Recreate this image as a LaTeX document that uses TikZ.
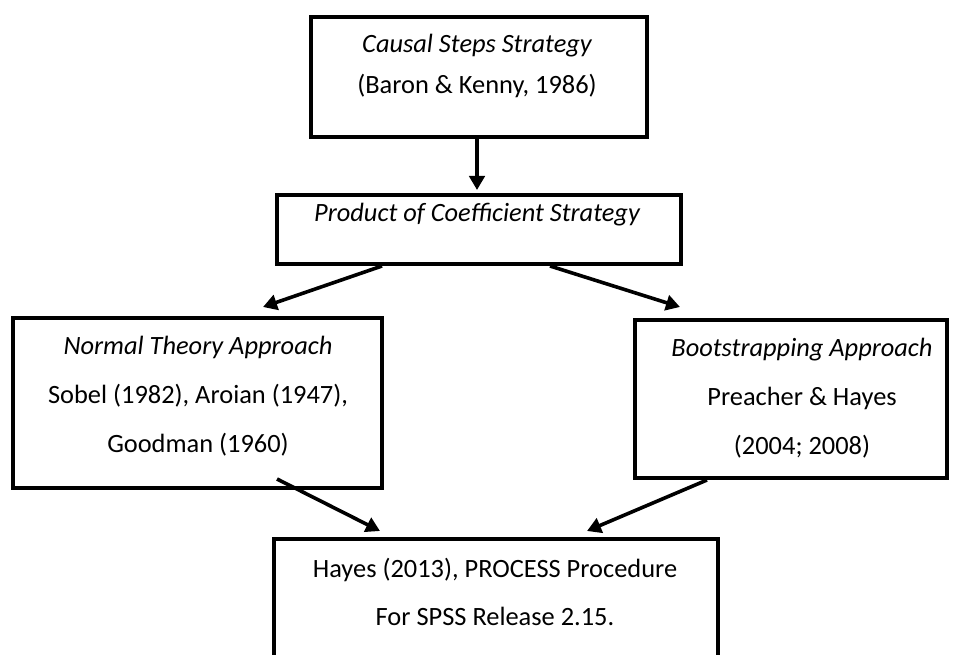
\documentclass[tikz,border=0pt]{standalone}
\usepackage{fontspec}
\setmainfont{Carlito}
\usetikzlibrary{arrows.meta,calc}
\begin{document}
\begin{tikzpicture}[x=0.75pt,y=-0.75pt,
  box/.style={draw=black,line width=3pt,rectangle,inner sep=0pt},
  txt/.style={anchor=base,inner sep=0pt,font=\fontsize{19.8}{24}\selectfont},
  conn/.style={line width=2.7pt,-{Triangle[length=10.5pt,width=11.5pt]}}]
\useasboundingbox (0,0) rectangle (960,655);
\fill[white] (0,0) rectangle (960,655);
% boxes
\node[box,minimum width=252pt,minimum height=90pt] (b1) at (479,77) {};
\node[box,minimum width=303pt,minimum height=51.75pt] (b2) at (479,229.5) {};
\node[box,minimum width=276.75pt,minimum height=127.5pt] (b3) at (197.5,403) {};
\node[box,minimum width=234pt,minimum height=118.5pt] (b4) at (791,399) {};
\node[box,minimum width=333pt,minimum height=98.25pt] (b5) at (496,604.5) {};
% texts
\node[txt] (t1a) at (477,53) {\itshape Causal Steps Strategy};
\node[txt] (t1b) at (477,94) {(Baron \& Kenny, 1986)};
\node[txt] (t2) at (477,222) {\itshape Product of Coefficient Strategy};
\node[txt] (t3a) at (198,355) {\itshape Normal Theory Approach};
\node[txt] (t3b) at (198,404) {Sobel (1982), Aroian (1947),};
\node[txt] (t3c) at (198,453) {Goodman (1960)};
\node[txt] (t4a) at (802,357) {\itshape Bootstrapping Approach};
\node[txt] (t4b) at (802,406) {Preacher \& Hayes};
\node[txt] (t4c) at (802,455) {(2004; 2008)};
\node[txt] (t5a) at (495,577) {Hayes (2013), PROCESS Procedure};
\node[txt] (t5b) at (495,625) {For SPSS Release 2.15.};
% connectors
\draw[conn] ($(b1.south)+(-2,0)$) -- ($(b2.north)+(-2,-3)$);
\draw[conn] ($(b2.south)+(-97,0)$) -- ($(b3.north)+(65.5,-9)$);
\draw[conn] ($(b2.south)+(71,0)$) -- ($(b4.north)+(-111,-11)$);
\draw[conn] ($(b3.south)+(79.5,-11)$) -- ($(b5.north)+(-116,-6)$);
\draw[conn] ($(b4.south)+(-84,0)$) -- ($(b5.north)+(91,-6)$);
\end{tikzpicture}
\end{document}
